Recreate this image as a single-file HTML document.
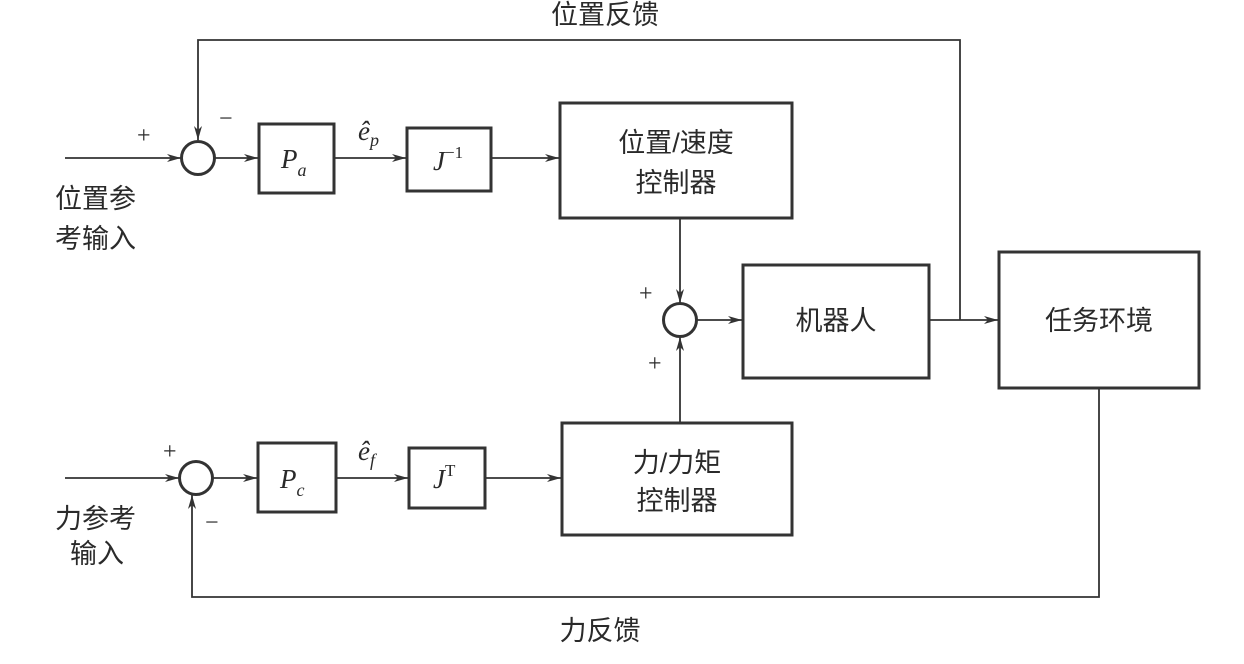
<!DOCTYPE html>
<html><head><meta charset="utf-8"><style>
html,body{margin:0;padding:0;background:#fff;}
svg{display:block}
text{font-family:"Liberation Sans","Noto Sans CJK SC",sans-serif;fill:#2a2a2a}
.cj{font-size:27px}
.it{font-family:"Liberation Serif",serif;font-style:italic;font-size:27px}
.sg{font-family:"Liberation Serif",serif;font-size:24px}
</style></head><body>
<svg width="1244" height="664" viewBox="0 0 1244 664" xmlns="http://www.w3.org/2000/svg">
<defs>
<marker id="a" viewBox="0 0 14 8" refX="14" refY="4" markerWidth="14" markerHeight="8" markerUnits="userSpaceOnUse" orient="auto">
<path d="M0,0 L14,4 L0,8 L4,4 Z" fill="#333"/></marker>
</defs>
<g stroke="#333" stroke-width="1.8" fill="none">
<polyline points="960,320 960,40 198,40 198,140" marker-end="url(#a)"/>
<line x1="65" y1="158" x2="181" y2="158" marker-end="url(#a)"/>
<line x1="215" y1="158" x2="258" y2="158" marker-end="url(#a)"/>
<line x1="334" y1="158" x2="406" y2="158" marker-end="url(#a)"/>
<line x1="491" y1="158" x2="559" y2="158" marker-end="url(#a)"/>
<line x1="680" y1="218" x2="680" y2="303" marker-end="url(#a)"/>
<line x1="697" y1="320" x2="742" y2="320" marker-end="url(#a)"/>
<line x1="929" y1="320" x2="998" y2="320" marker-end="url(#a)"/>
<line x1="680" y1="423" x2="680" y2="337" marker-end="url(#a)"/>
<line x1="65" y1="478" x2="179" y2="478" marker-end="url(#a)"/>
<line x1="213" y1="478" x2="257" y2="478" marker-end="url(#a)"/>
<line x1="336" y1="478" x2="408" y2="478" marker-end="url(#a)"/>
<line x1="485" y1="478" x2="561" y2="478" marker-end="url(#a)"/>
<polyline points="1099,388 1099,597 192,597 192,495" marker-end="url(#a)"/>
</g>
<g stroke="#333" stroke-width="3" fill="none">
<circle cx="198" cy="158" r="16.5"/>
<circle cx="680" cy="320" r="16.5"/>
<circle cx="196" cy="478" r="16.5"/>
<rect x="259" y="124" width="75" height="69"/>
<rect x="407" y="128" width="84" height="63"/>
<rect x="560" y="103" width="232" height="115"/>
<rect x="743" y="265" width="186" height="113"/>
<rect x="999" y="252" width="200" height="136"/>
<rect x="258" y="443" width="78" height="69"/>
<rect x="409" y="448" width="76" height="60"/>
<rect x="562" y="423" width="230" height="112"/>
</g>
<text class="cj" x="605" y="24" text-anchor="middle">位置反馈</text>
<text class="cj" x="600" y="640" text-anchor="middle">力反馈</text>
<text class="cj" x="55" y="208">位置参</text>
<text class="cj" x="55" y="248">考输入</text>
<text class="cj" x="55" y="528">力参考</text>
<text class="cj" x="70" y="563">输入</text>
<text class="cj" x="676" y="152" text-anchor="middle">位置/速度</text>
<text class="cj" x="676" y="192" text-anchor="middle">控制器</text>
<text class="cj" x="836" y="330" text-anchor="middle">机器人</text>
<text class="cj" x="1099" y="330" text-anchor="middle">任务环境</text>
<text class="cj" x="677" y="472" text-anchor="middle">力/力矩</text>
<text class="cj" x="677" y="510" text-anchor="middle">控制器</text>
<text class="it" x="281" y="168">P<tspan font-size="18" dy="8">a</tspan></text>
<text class="it" x="280" y="488">P<tspan font-size="18" dy="8">c</tspan></text>
<text class="it" x="433" y="170">J<tspan font-style="normal" font-size="17" dy="-12">−1</tspan></text>
<text class="it" x="433" y="488">J<tspan font-style="normal" font-size="17" dy="-12">T</tspan></text>
<text class="it" x="358" y="140">ê<tspan font-size="18" dy="6">p</tspan></text>
<text class="it" x="358" y="460">ê<tspan font-size="18" dy="6">f</tspan></text>
<text class="sg" x="137" y="143">+</text>
<text class="sg" x="219" y="126">−</text>
<text class="sg" x="639" y="301">+</text>
<text class="sg" x="648" y="371">+</text>
<text class="sg" x="163" y="459">+</text>
<text class="sg" x="205" y="530">−</text>
</svg>
</body></html>
